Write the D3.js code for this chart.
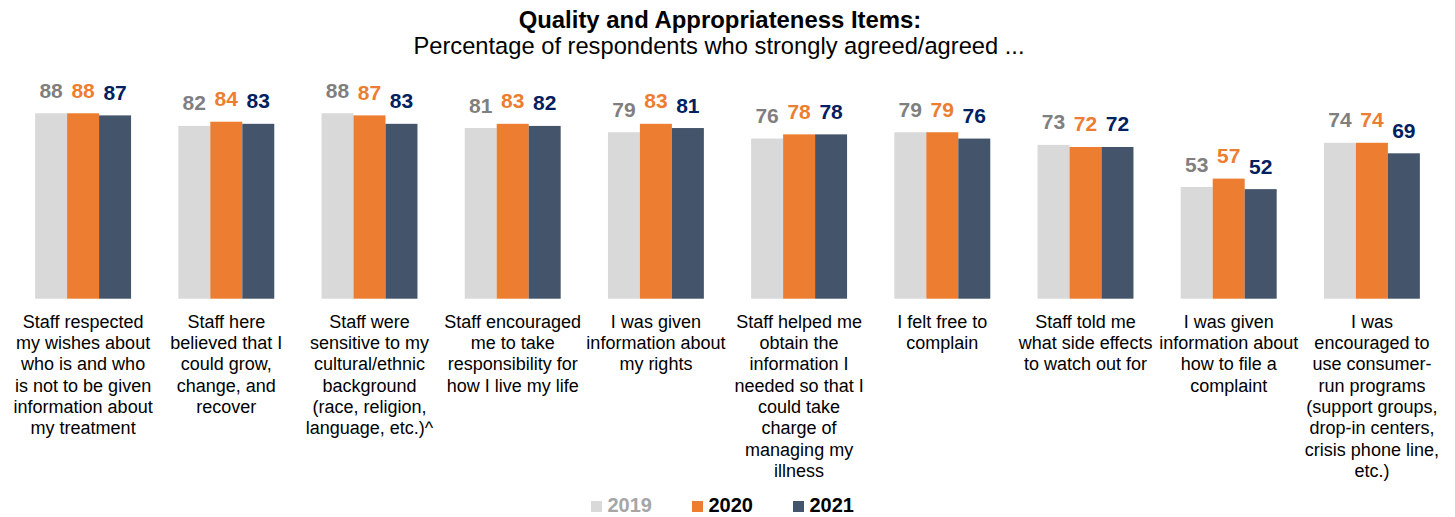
<!DOCTYPE html>
<html>
<head>
<meta charset="utf-8">
<script src="https://cdn.jsdelivr.net/npm/d3@7"></script>
<style>
  html, body { margin: 0; padding: 0; background: #ffffff; }
  svg { display: block; font-family: "Liberation Sans", Arial, sans-serif; }
</style>
</head>
<body>
<svg id="chart" width="1455" height="517"></svg>
<script>
// Survey items (line breaks as set in the category labels)
const categories = [
  "Staff respected\nmy wishes about\nwho is and who\nis not to be given\ninformation about\nmy treatment",
  "Staff here\nbelieved that I\ncould grow,\nchange, and\nrecover",
  "Staff were\nsensitive to my\ncultural/ethnic\nbackground\n(race, religion,\nlanguage, etc.)^",
  "Staff encouraged\nme to take\nresponsibility for\nhow I live my life",
  "I was given\ninformation about\nmy rights",
  "Staff helped me\nobtain the\ninformation I\nneeded so that I\ncould take\ncharge of\nmanaging my\nillness",
  "I felt free to\ncomplain",
  "Staff told me\nwhat side effects\nto watch out for",
  "I was given\ninformation about\nhow to file a\ncomplaint",
  "I was\nencouraged to\nuse consumer-\nrun programs\n(support groups,\ndrop-in centers,\ncrisis phone line,\netc.)"
];

const years = ["2019", "2020", "2021"];

// Percent strongly agreed / agreed
const values2019 = [88, 82, 88, 81, 79, 76, 79, 73, 53, 74];
const values2020 = [88, 84, 87, 83, 83, 78, 79, 72, 57, 74];
const values2021 = [87, 83, 83, 82, 81, 78, 76, 72, 52, 69];

const barColors = ["#d9d9d9", "#ed7d31", "#44546a"];
const labelColors = ["#7f7f7f", "#ed7d31", "#002060"];
const legendTextColors = ["#a6a6a6", "#000000", "#000000"];

const seriesValues = [values2019, values2020, values2021];

const svg = d3.select("#chart");

const x0 = d3.scaleBand()
  .domain(d3.range(categories.length))
  .range([11.5, 1443.5])
  .paddingInner(0.33)
  .paddingOuter(0.165);

const x1 = d3.scaleBand()
  .domain(years)
  .range([0, x0.bandwidth()]);

const y = d3.scaleLinear()
  .domain([0, 100])
  .range([298.7, 88]);

// Title
svg.append("text")
  .attr("x", 720).attr("y", 28)
  .attr("text-anchor", "middle")
  .attr("font-size", 23.9).attr("font-weight", "bold")
  .attr("fill", "#000")
  .text("Quality and Appropriateness Items:");

svg.append("text")
  .attr("x", 719).attr("y", 54)
  .attr("text-anchor", "middle")
  .attr("font-size", 23.7)
  .attr("fill", "#000")
  .text("Percentage of respondents who strongly agreed/agreed ...");

// Bars and value labels
const groups = svg.append("g").selectAll("g")
  .data(categories)
  .join("g")
  .attr("transform", (d, i) => `translate(${x0(i)},0)`);

groups.each(function (cat, i) {
  const g = d3.select(this);
  years.forEach((yr, s) => {
    const v = seriesValues[s][i];
    g.append("rect")
      .attr("x", x1(yr))
      .attr("y", y(v))
      .attr("width", x1.bandwidth())
      .attr("height", y(0) - y(v))
      .attr("fill", barColors[s]);
    g.append("text")
      .attr("x", x1(yr) + x1.bandwidth() / 2)
      .attr("y", y(v) - 15.5)
      .attr("text-anchor", "middle")
      .attr("font-size", 21)
      .attr("font-weight", "bold")
      .attr("fill", labelColors[s])
      .text(v);
  });

  // Category label, one tspan per line
  const t = g.append("text")
    .attr("text-anchor", "middle")
    .attr("font-size", 18)
    .attr("fill", "#000");
  cat.split("\n").forEach((line, k) => {
    t.append("tspan")
      .attr("x", x0.bandwidth() / 2)
      .attr("y", 327.7 + k * 21.3)
      .text(line);
  });
});

// Legend
const legendStep = 101;
const legendLeft = 591;
const legend = svg.append("g").selectAll("g")
  .data(years)
  .join("g")
  .attr("transform", (d, i) => `translate(${legendLeft + i * legendStep},0)`);

legend.append("rect")
  .attr("x", 0).attr("y", 501)
  .attr("width", 11).attr("height", 11)
  .attr("fill", (d, i) => barColors[i]);

legend.append("text")
  .attr("x", 16.5).attr("y", 512)
  .attr("font-size", 20)
  .attr("font-weight", "bold")
  .attr("fill", (d, i) => legendTextColors[i])
  .text(d => d);
</script>
</body>
</html>
